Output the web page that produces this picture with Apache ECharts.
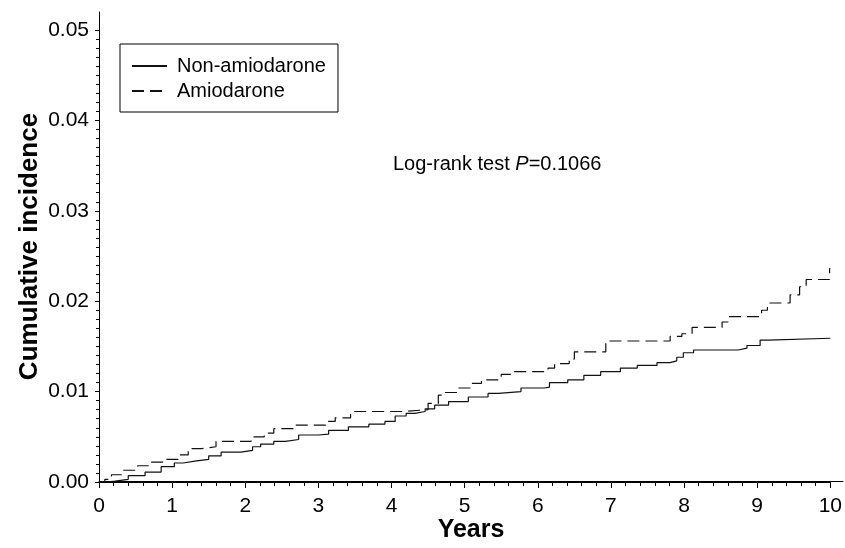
<!DOCTYPE html>
<html>
<head>
<meta charset="utf-8">
<script src="https://cdn.jsdelivr.net/npm/echarts@6/dist/echarts.min.js"></script>
<style>html,body{margin:0;padding:0;background:#fff}#c{width:845px;height:548px}</style>
</head>
<body>
<div id="c"></div>
<script>
var seriesNames = ['Non-amiodarone', 'Amiodarone'];
var nonAmioYears = [0, 0.1, 0.22, 0.4, 0.63, 0.85, 1.03, 1.15, 1.31, 1.5, 1.67, 1.94, 2.1, 2.21, 2.39, 2.55, 2.73, 3.0, 3.14, 3.41, 3.69, 3.91, 4.05, 4.2, 4.32, 4.46, 4.59, 4.78, 5.05, 5.32, 5.46, 5.77, 6.09, 6.16, 6.41, 6.63, 6.86, 7.13, 7.36, 7.63, 7.81, 7.9, 7.99, 8.13, 8.74, 8.86, 9.04, 9.15, 10.0];
var nonAmioInc = [0, 0.0001, 0.0003, 0.0007, 0.0011, 0.0017, 0.0021, 0.0023, 0.0025, 0.0029, 0.0033, 0.0035, 0.0039, 0.0042, 0.0045, 0.0047, 0.0052, 0.0053, 0.0057, 0.0061, 0.0064, 0.0067, 0.0073, 0.0076, 0.0078, 0.0081, 0.0085, 0.0089, 0.0094, 0.0098, 0.0100, 0.0104, 0.0105, 0.0110, 0.0113, 0.0118, 0.0122, 0.0126, 0.0129, 0.0132, 0.0134, 0.0138, 0.0143, 0.0146, 0.0148, 0.0151, 0.0157, 0.0159, 0.0159];
var amioYears = [0, 0.08, 0.17, 0.31, 0.53, 0.72, 0.9, 1.08, 1.22, 1.4, 1.6, 2.08, 2.26, 2.39, 2.67, 3.1, 3.23, 3.44, 4.14, 4.5, 4.64, 4.73, 4.91, 5.09, 5.23, 5.5, 5.68, 6.14, 6.23, 6.43, 6.5, 6.93, 7.81, 7.97, 8.11, 8.52, 8.6, 9.06, 9.14, 9.45, 9.58, 9.67, 9.99, 10.0];
var amioInc = [0, 0.0003, 0.0008, 0.0013, 0.0018, 0.0022, 0.0025, 0.0030, 0.0037, 0.0039, 0.0045, 0.0050, 0.0054, 0.0059, 0.0063, 0.0067, 0.0071, 0.0078, 0.0080, 0.0087, 0.0096, 0.0099, 0.0104, 0.0109, 0.0113, 0.0119, 0.0122, 0.0126, 0.0131, 0.0136, 0.0144, 0.0156, 0.0161, 0.0164, 0.0171, 0.0177, 0.0183, 0.0190, 0.0198, 0.0207, 0.0216, 0.0224, 0.0236, 0.0236];
var xTickMax = 10;
var yTickMax = 0.05;
var annotation = 'Log-rank test ';
var annotationP = 'P';
var annotationValue = '=0.1066';

function pairs(xs, ys) { return xs.map(function (x, i) { return [x, ys[i]]; }); }

var FONT = '"Liberation Sans", Arial, sans-serif';
var chart = echarts.init(document.getElementById('c'), null, {renderer: 'canvas'});
var lineAxis = {color: '#000', width: 1};
chart.setOption({
  animation: false,
  backgroundColor: '#fff',
  textStyle: {fontFamily: FONT, color: '#000'},
  grid: [
    {left: 99, right: 2, top: 12, bottom: 66},
    {left: 99, right: 11, top: 30, bottom: 66}
  ],
  xAxis: [
    {gridIndex: 0, type: 'value', min: 0, max: 1,
     axisLine: {show: true, lineStyle: lineAxis}, axisTick: {show: false}, axisLabel: {show: false}, splitLine: {show: false},
     name: 'Years', nameLocation: 'middle', nameGap: 37,
     nameTextStyle: {fontFamily: FONT, fontSize: 25, fontWeight: 'bold', color: '#000'}},
    {gridIndex: 1, type: 'value', min: 0, max: xTickMax, interval: 1,
     axisLine: {show: true, lineStyle: lineAxis},
     axisTick: {show: true, length: 6, lineStyle: {color: '#000'}},
     minorTick: {show: true, splitNumber: 5, length: 4, lineStyle: {color: '#000'}},
     axisLabel: {fontFamily: FONT, fontSize: 21, color: '#000', margin: 14},
     splitLine: {show: false}}
  ],
  yAxis: [
    {gridIndex: 0, type: 'value', min: 0, max: 1,
     axisLine: {show: true, lineStyle: lineAxis}, axisTick: {show: false}, axisLabel: {show: false}, splitLine: {show: false},
     name: 'Cumulative incidence', nameLocation: 'middle', nameGap: 56,
     nameTextStyle: {fontFamily: FONT, fontSize: 26, fontWeight: 'bold', color: '#000'}},
    {gridIndex: 1, type: 'value', min: 0, max: yTickMax, interval: 0.01,
     axisLine: {show: true, lineStyle: lineAxis},
     axisTick: {show: true, length: 4, lineStyle: {color: '#000'}},
     minorTick: {show: true, splitNumber: 10, length: 3, lineStyle: {color: '#000'}},
     axisLabel: {fontFamily: FONT, fontSize: 21, color: '#000', margin: 10,
       formatter: function (v) { return v.toFixed(2); }},
     splitLine: {show: false}}
  ],
  legend: {
    orient: 'vertical', left: 120, top: 44,
    borderColor: '#000', borderWidth: 1, borderRadius: 0,
    padding: [12, 12, 11, 11],
    itemWidth: 35, itemHeight: 14, itemGap: 5,
    itemStyle: {opacity: 0},
    textStyle: {fontFamily: FONT, fontSize: 20, color: '#000', lineHeight: 20, padding: [0, 0, 0, 5]},
    data: seriesNames
  },
  graphic: [{
    type: 'text', left: 393, top: 154,
    style: {
      text: '{a|' + annotation + '}{b|' + annotationP + '}{a|' + annotationValue + '}',
      rich: {
        a: {fontFamily: FONT, fontSize: 20, fill: '#000', color: '#000'},
        b: {fontFamily: FONT, fontSize: 20, fontStyle: 'italic', fill: '#000', color: '#000'}
      }
    }
  }],
  series: [
    {name: seriesNames[0], type: 'line', xAxisIndex: 1, yAxisIndex: 1, step: 'end',
     symbol: 'none', data: pairs(nonAmioYears, nonAmioInc),
     itemStyle: {color: '#000'},
     lineStyle: {color: '#111', width: 1.2, type: 'solid'}},
    {name: seriesNames[1], type: 'line', xAxisIndex: 1, yAxisIndex: 1, step: 'end',
     symbol: 'none', data: pairs(amioYears, amioInc),
     itemStyle: {color: '#000'},
     lineStyle: {color: '#111', width: 1.2, type: [12, 6]}}
  ]
});
</script>
</body>
</html>
